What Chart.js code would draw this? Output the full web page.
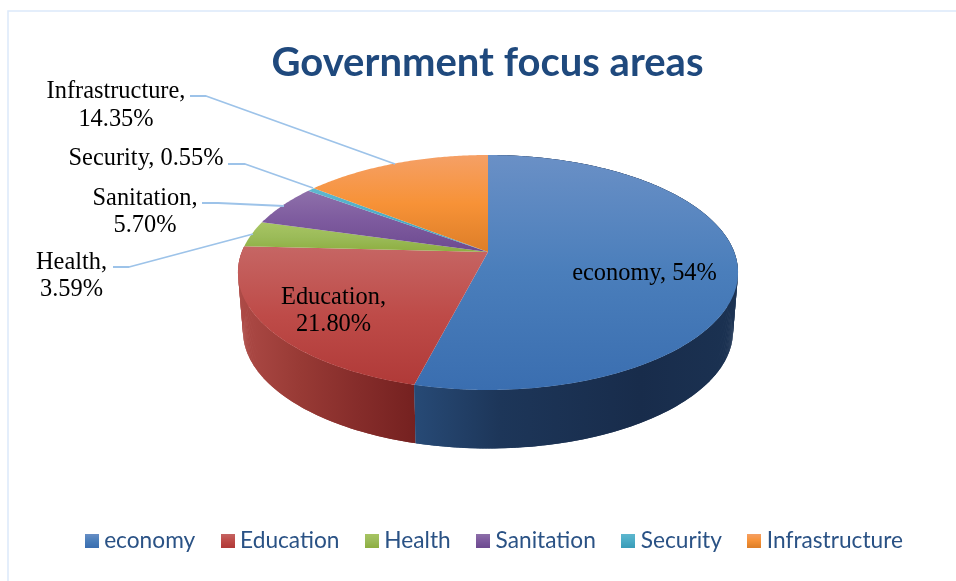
<!DOCTYPE html>
<html>
<head>
<meta charset="utf-8">
<style>html,body{margin:0;padding:0;background:#fff}canvas{display:block}</style>
<script src="https://cdn.jsdelivr.net/npm/chart.js@4"></script>
</head>
<body>
<div style="width:956px;height:581px;position:relative"><canvas id="c" width="956" height="581"></canvas></div>
<script>
const categories = ["economy","Education","Health","Sanitation","Security","Infrastructure"];
const shareValues = [54, 21.80, 3.59, 5.70, 0.55, 14.35];
const shareLabels = ["54%","21.80%","3.59%","5.70%","0.55%","14.35%"];

const lightColors = ["#6a90c6","#c66664","#a8c563","#8e70aa","#5fb8cf","#f5a066"];
const midColors   = ["#4a7ebb","#be4b48","#9bbb59","#7d5a9e","#4bacc6","#f79237"];
const darkColors  = ["#3a6eb0","#b03a38","#8dae40","#6d4a90","#3a9cb8","#dd7e28"];
const wallStops = [
  ["#274a76","#1d3659","#182c4b","#1b3252"],
  ["#ad4a46","#983a35","#852c2a","#752120"]
];

// 3D pie projection settings (styling of the drawing, not data)
const PIE = {cx:488, cy:252, b:246.2, a:113.9, k:0.1745, depth:58.5, shrink:0.98};
const LABEL_BOX = [
  {x:644.5, y:[274]},
  {x:333.5, y:[298,325]},
  {x:71.5,  y:[263,290], line:[[113,267],[129,267],[253,234]]},
  {x:145, y:[199,226], line:[[202,203],[218,203],[284,206]]},
  {x:146, y:[159], line:[[228,164],[245,164],[313,188]]},
  {x:116, y:[92,120], line:[[190,96],[206,96],[395,164]]}
];

function project(t){
  const x=Math.cos(t), y=Math.sin(t), d=1-PIE.k*y;
  return [PIE.cx+PIE.b*x/d, PIE.cy+PIE.a*y/d];
}
function lower(p){
  return [PIE.cx+(p[0]-PIE.cx)*PIE.shrink, p[1]+PIE.depth];
}
function arcPoints(s,e){
  const pts=[], n=Math.max(2,Math.ceil((e-s)/0.01));
  for(let i=0;i<=n;i++) pts.push(project(s+(e-s)*i/n));
  return pts;
}
function swatch(i){
  const cv=document.createElement('canvas'); cv.width=14; cv.height=14;
  const g=cv.getContext('2d'), gr=g.createLinearGradient(0,0,0,14);
  gr.addColorStop(0,lightColors[i]); gr.addColorStop(.5,midColors[i]); gr.addColorStop(1,darkColors[i]);
  g.fillStyle=gr; g.fillRect(0,0,14,14);
  return cv;
}

const framePlugin = {
  id:'frame',
  beforeDraw(chart){
    const c=chart.ctx; c.save();
    c.fillStyle='#fff'; c.fillRect(0,0,956,581);
    c.strokeStyle='#dce9fa'; c.lineWidth=1.5;
    c.beginPath(); c.moveTo(8,581); c.lineTo(8,11); c.lineTo(956,11); c.stroke();
    c.restore();
  }
};

const pie3d = {
  id:'pie3d',
  beforeDatasetDraw(chart,args){
    const c=chart.ctx, arcs=args.meta.data;
    c.save();
    // side wall first: one small overlapping quad per step so the silhouette stays closed
    [1,0].forEach(i=>{
      const pr=arcs[i].getProps(['startAngle','endAngle'],true);
      const top=arcPoints(pr.startAngle,pr.endAngle);
      const xs=i===0?[414,500,640,738]:[238,300,360,415];
      const g=c.createLinearGradient(xs[0],0,xs[3],0);
      wallStops[i].forEach((col,j)=>g.addColorStop((xs[j]-xs[0])/(xs[3]-xs[0]),col));
      c.fillStyle=g;
      for(let n=0;n<top.length-1;n++){
        const a=top[n], b=top[Math.min(n+2,top.length-1)];
        const la=lower(a), lb=lower(b);
        c.beginPath();
        c.moveTo(a[0],a[1]); c.lineTo(b[0],b[1]); c.lineTo(lb[0],lb[1]); c.lineTo(la[0],la[1]);
        c.closePath(); c.fill();
      }
    });
    arcs.forEach((arc,i)=>{
      const pr=arc.getProps(['startAngle','endAngle'],true);
      const pts=arcPoints(pr.startAngle,pr.endAngle);
      const ys=pts.map(p=>p[1]).concat(PIE.cy);
      const g=c.createLinearGradient(0,Math.min(...ys),0,Math.max(...ys));
      g.addColorStop(0,lightColors[i]); g.addColorStop(.5,midColors[i]); g.addColorStop(1,darkColors[i]);
      c.fillStyle=g;
      c.beginPath(); c.moveTo(PIE.cx,PIE.cy);
      pts.forEach(p=>c.lineTo(p[0],p[1]));
      c.closePath(); c.fill();
    });
    c.restore();
    return false;
  },
  afterDatasetsDraw(chart){
    const c=chart.ctx;
    c.save();
    c.strokeStyle='#9dc3e9'; c.lineWidth=1.8; c.lineJoin='round';
    LABEL_BOX.forEach(b=>{
      if(!b.line) return;
      c.beginPath();
      b.line.forEach((p,j)=>j?c.lineTo(p[0],p[1]):c.moveTo(p[0],p[1]));
      c.stroke();
    });
    c.fillStyle='#000'; c.textAlign='center'; c.textBaseline='middle';
    c.font='24.4px "Liberation Serif"';
    categories.forEach((name,i)=>{
      const b=LABEL_BOX[i];
      const lines=b.y.length===2?[name+",",shareLabels[i]]:[name+", "+shareLabels[i]];
      lines.forEach((t,j)=>c.fillText(t,b.x,b.y[j]));
    });
    c.restore();
  }
};

new Chart(document.getElementById('c'),{
  type:'pie',
  data:{labels:categories,datasets:[{data:shareValues,backgroundColor:midColors,borderWidth:0}]},
  plugins:[framePlugin,pie3d],
  options:{
    responsive:false,
    animation:false,
    layout:{padding:{left:40.5,right:21.5,bottom:19}},
    plugins:{
      tooltip:{enabled:false},
      title:{display:true,text:'Government focus areas',color:'#1f497d',
        font:{family:'Lato',weight:'bold',size:40},padding:{top:39,bottom:10}},
      legend:{position:'bottom',align:'end',
        labels:{
          font:{family:'Lato',size:22.7},color:'#2a5285',
          usePointStyle:true,pointStyleWidth:2,boxHeight:14,padding:31.5,
          generateLabels(){
            return categories.map((t,i)=>({text:t,fillStyle:midColors[i],strokeStyle:midColors[i],
              lineWidth:0,pointStyle:swatch(i),hidden:false,index:i,fontColor:'#2a5285'}));
          }
        }}
    }
  }
});
</script>
</body>
</html>
